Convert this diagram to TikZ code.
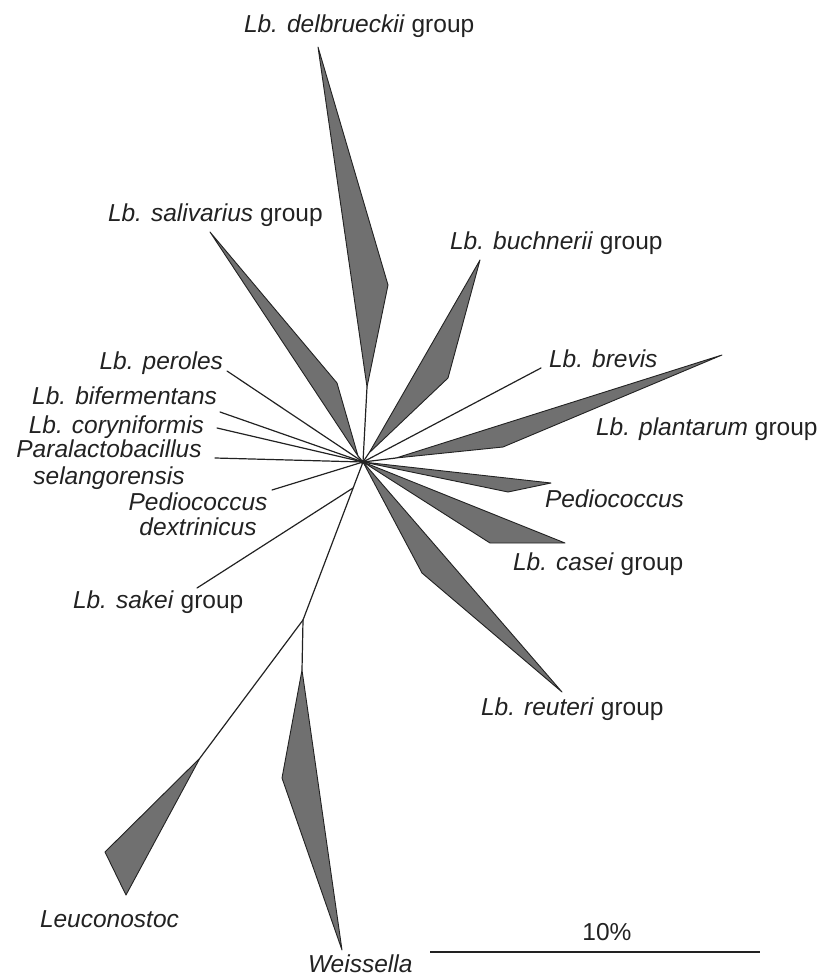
\documentclass[tikz,border=0pt]{standalone}
\usepackage{fontspec}
\setmainfont{Liberation Sans}
\definecolor{wedgegray}{RGB}{112,112,112}
\definecolor{inkc}{RGB}{34,34,34}
\begin{document}
\begin{tikzpicture}[x=1pt,y=-1pt,
  branch/.style={line width=1.2pt, draw=inkc, line cap=round},
  wedge/.style={draw=inkc, line width=0.9pt, fill=wedgegray, line join=round},
  lab/.style={inner sep=0pt, outer sep=0pt, text=inkc, font=\fontsize{24.5}{28}\selectfont},
  barline/.style={line width=2.8pt, draw=inkc}]
\useasboundingbox (0,0) rectangle (821,976);
% --- tree points ---
\coordinate (C) at (363,462);
\coordinate (D1) at (318,47);  \coordinate (D2) at (388,285); \coordinate (D3) at (367,387);
\coordinate (S1) at (210,232); \coordinate (S2) at (337,383); \coordinate (S3) at (358,456);
\coordinate (B1) at (480,260); \coordinate (B2) at (448,378); \coordinate (B3) at (369,453);
\coordinate (BV) at (541,368);
\coordinate (P1) at (722,355); \coordinate (P2) at (503,447); \coordinate (P3) at (396,458);
\coordinate (Q1) at (551,483); \coordinate (Q2) at (508,492);
\coordinate (K1) at (565,543); \coordinate (K2) at (490,543);
\coordinate (R1) at (562,692); \coordinate (R2) at (422,573);
\coordinate (PE) at (227,371);
\coordinate (BF) at (220,412);
\coordinate (CO) at (217,428);
\coordinate (PS) at (215,458);
\coordinate (PD) at (272,490);
\coordinate (SK) at (197,588);
\coordinate (J)  at (353,488);
\coordinate (BP) at (303,620);
\coordinate (L0) at (200,758); \coordinate (L1) at (105,852); \coordinate (L2) at (126,895);
\coordinate (W0) at (302,670); \coordinate (W1) at (282,778); \coordinate (W2) at (342,950);
\coordinate (SB1) at (430,952); \coordinate (SB2) at (760,952);
% --- branches ---
\draw[branch] (C) -- (D3);
\draw[branch] (C) -- (S3);
\draw[branch] (C) -- (B3);
\draw[branch] (C) -- (BV);
\draw[branch] (C) -- (P3);
\draw[branch] (C) -- (PE);
\draw[branch] (C) -- (BF);
\draw[branch] (C) -- (CO);
\draw[branch] (C) -- (PS);
\draw[branch] (C) -- (PD);
\draw[branch] (J) -- (SK);
\draw[branch] (C) -- (BP);
\draw[branch] (BP) -- (L0);
\draw[branch] (BP) -- (W0);
% --- wedges ---
\draw[wedge] (D1) -- (D2) -- (D3) -- cycle;
\draw[wedge] (S1) -- (S2) -- (S3) -- cycle;
\draw[wedge] (B1) -- (B2) -- (B3) -- cycle;
\draw[wedge] (P1) -- (P2) -- (P3) -- cycle;
\draw[wedge] (C) -- (Q2) -- (Q1) -- cycle;
\draw[wedge] (C) -- (K2) -- (K1) -- cycle;
\draw[wedge] (C) -- (R2) -- (R1) -- cycle;
\draw[wedge] (L0) -- (L1) -- (L2) -- cycle;
\draw[wedge] (W0) -- (W1) -- (W2) -- cycle;
\fill[inkc] (C) circle (2.2);
% --- labels ---
\node[lab, anchor=base west] (tdel) at (244,33) {\textit{Lb. delbrueckii} group};
\node[lab, anchor=base west] (tsal) at (108,222) {\textit{Lb. salivarius} group};
\node[lab, anchor=base west] (tbuc) at (450,250) {\textit{Lb. buchnerii} group};
\node[lab, anchor=base west] (tbre) at (549,367) {\textit{Lb. brevis}};
\node[lab, anchor=base west] (tpla) at (596,435) {\textit{Lb. plantarum} group};
\node[lab, anchor=base west] (tped) at (545,507) {\textit{Pediococcus}};
\node[lab, anchor=base west] (tcas) at (513,570) {\textit{Lb. casei} group};
\node[lab, anchor=base west] (treu) at (481,715) {\textit{Lb. reuteri} group};
\node[lab, anchor=base east] (tper) at (223,369) {\textit{Lb. peroles}};
\node[lab, anchor=base east] (tbif) at (217,404) {\textit{Lb. bifermentans}};
\node[lab, anchor=base east] (tcor) at (204,433) {\textit{Lb. coryniformis}};
\node[lab, anchor=base] (tpar1) at (109,457) {\textit{Paralactobacillus}};
\node[lab, anchor=base] (tpar2) at (109,484) {\textit{selangorensis}};
\node[lab, anchor=base] (tpdx1) at (198,510) {\textit{Pediococcus}};
\node[lab, anchor=base] (tpdx2) at (198,535) {\textit{dextrinicus}};
\node[lab, anchor=base west] (tsak) at (73,608) {\textit{Lb. sakei} group};
\node[lab, anchor=base west] (tleu) at (40,927) {\textit{Leuconostoc}};
\node[lab, anchor=base west] (twei) at (308,972) {\textit{Weissella}};
% --- scale bar ---
\draw[barline] (SB1) -- (SB2);
\node[lab, anchor=base] (tbar) at (607,940) {10\%};
\end{tikzpicture}
\end{document}
